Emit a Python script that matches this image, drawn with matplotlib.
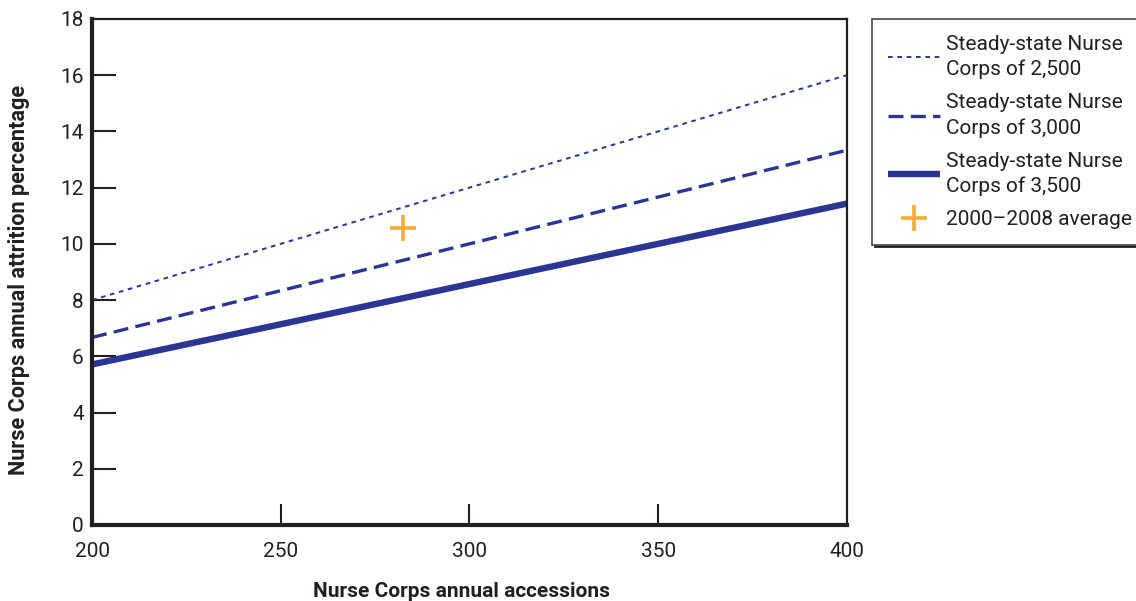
import matplotlib.pyplot as plt
import numpy as np

plt.rcParams['font.family'] = ['Roboto', 'DejaVu Sans']

# accessions range shown on the x axis
accessions = [200, 400]
# attrition (%) at both ends for each steady-state corps size
attr_2500 = [8.0, 16.0]
attr_3000 = [6.67, 13.33]
attr_3500 = [5.71, 11.43]
avg_x = [282.5]
avg_y = [10.57]

labels = ['Steady-state Nurse\nCorps of 2,500',
          'Steady-state Nurse\nCorps of 3,000',
          'Steady-state Nurse\nCorps of 3,500',
          '2000\u20132008 average']

navy = '#2B3593'
orange = '#F9A935'
ink = '#231F20'

fig = plt.figure(figsize=(11.36, 6.01), dpi=100)
ax = fig.add_axes([0.081, 0.1265, 0.6645, 0.842])

ax.plot(accessions, attr_2500, color=navy, lw=1.4, dashes=(2.4, 2.4), label=labels[0])
ax.plot(accessions, attr_3000, color=navy, lw=2.4, dashes=(4.5, 2.2), label=labels[1])
ax.plot(accessions, attr_3500, color=navy, lw=4.6, solid_capstyle='butt', label=labels[2])
ax.plot(avg_x, avg_y, ls='none', marker='+', ms=19, mew=2.6, color=orange, label=labels[3])

ax.set_xlim(200, 400)
ax.set_ylim(0, 18)
ax.set_xticks([200, 250, 300, 350, 400])
ax.set_yticks(np.arange(0, 19, 2))

ax.tick_params(axis='y', direction='in', length=17, width=1.5, labelsize=15, pad=6, color=ink)
ax.tick_params(axis='x', direction='in', length=15, width=1.5, labelsize=15, pad=12, color=ink)
for lbl in ax.get_xticklabels() + ax.get_yticklabels():
    lbl.set_color(ink)

# only the inner tick marks are drawn
for t in ax.yaxis.get_major_ticks()[-1:] + ax.yaxis.get_major_ticks()[:1]:
    t.tick1line.set_visible(False)
for t in ax.xaxis.get_major_ticks()[:1] + ax.xaxis.get_major_ticks()[-1:]:
    t.tick1line.set_visible(False)

ax.spines['left'].set_linewidth(3)
ax.spines['bottom'].set_linewidth(3)
ax.spines['top'].set_linewidth(1.6)
ax.spines['right'].set_linewidth(1.6)
for s in ax.spines.values():
    s.set_color(ink)

fig.text(0.406, 0.016, 'Nurse Corps annual accessions', fontsize=15, fontweight='bold',
         color=ink, ha='center', va='center')
fig.text(0.017, 0.534, 'Nurse Corps annual attrition percentage', fontsize=15.6,
         fontweight='bold', color=ink, ha='center', va='center', rotation=90)

leg = ax.legend(loc='upper left', bbox_to_anchor=(0.7676, 0.9684), bbox_transform=fig.transFigure,
                fontsize=15, frameon=True, fancybox=False, handlelength=2.5,
                handletextpad=0.3, labelspacing=0.66, borderpad=0.75, borderaxespad=0,
                shadow={'color': ink, 'alpha': 1.0})
leg.get_frame().set_edgecolor('#555555')
leg.get_frame().set_linewidth(1.3)
for t in leg.get_texts():
    t.set_color(ink)
    t.set_linespacing(1.4)

fig.savefig('out.png', dpi=100)
